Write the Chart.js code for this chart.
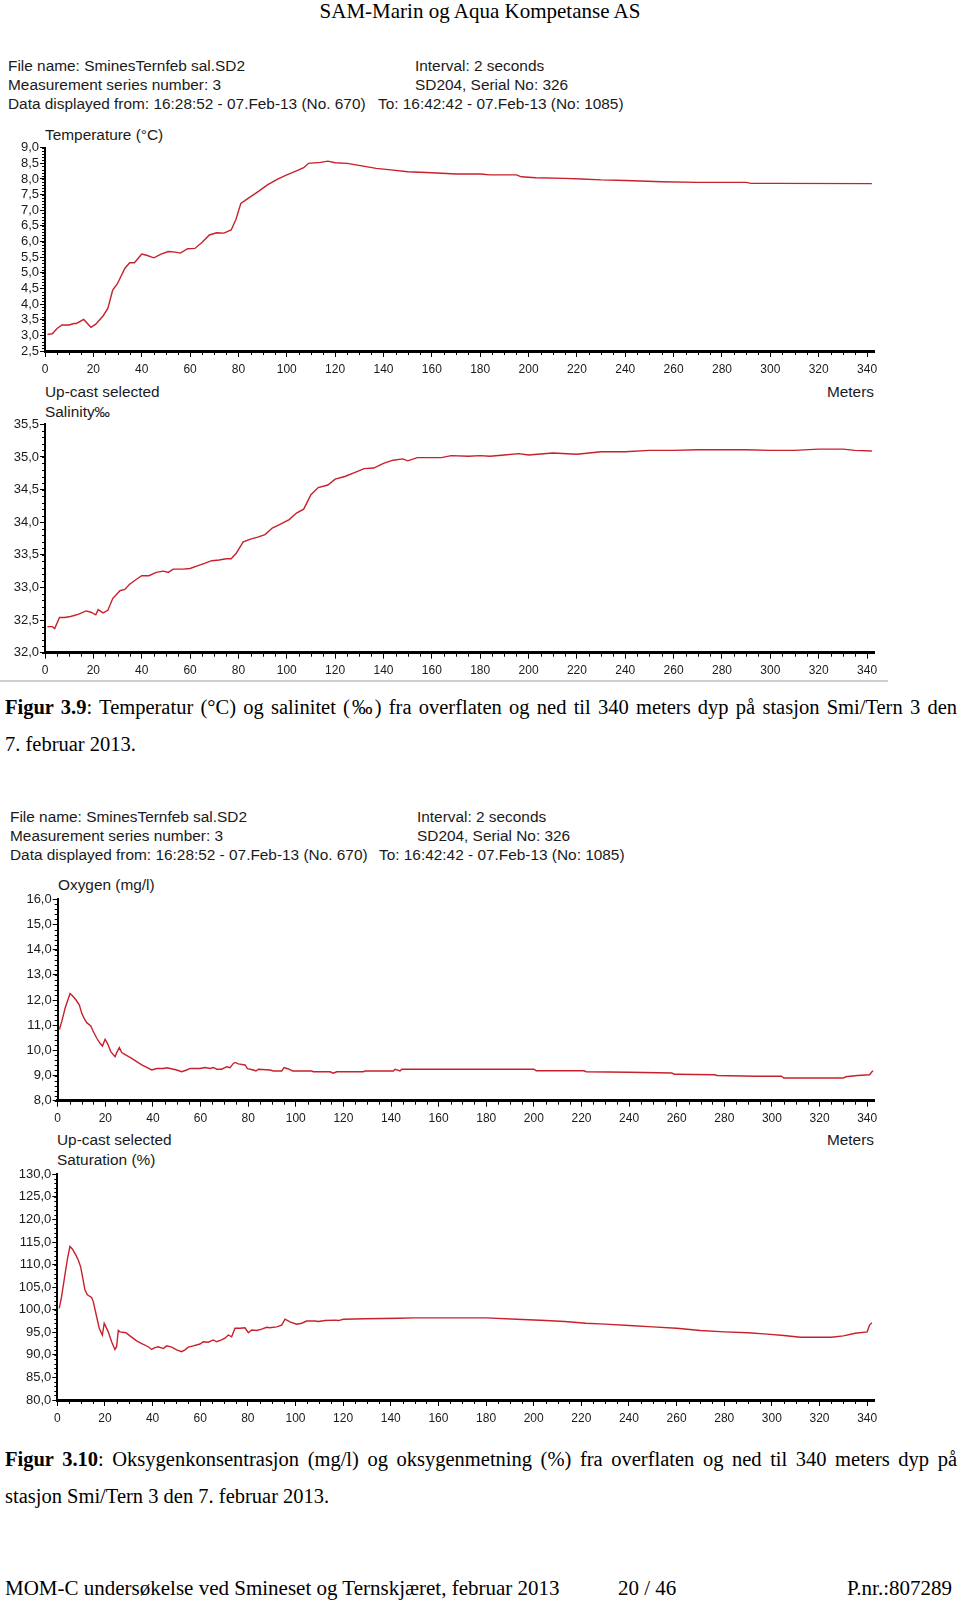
<!DOCTYPE html>
<html><head><meta charset="utf-8">
<script src="https://cdn.jsdelivr.net/npm/chart.js@4/dist/chart.umd.min.js"></script>
<style>
html,body{margin:0;padding:0;background:#fff;}
body{width:960px;height:1601px;position:relative;overflow:hidden;}
.t{position:absolute;font-family:"Liberation Sans",Arial,sans-serif;font-size:15.4px;color:#1a1a1a;white-space:nowrap;line-height:16px;}
.s{position:absolute;font-family:"Liberation Serif","Times New Roman",serif;font-size:20.5px;color:#000;white-space:nowrap;line-height:22px;}
.j{width:952px;text-align:justify;text-align-last:justify;}
canvas{position:absolute;left:0;}
.rule{position:absolute;left:0;top:680px;width:888px;height:2px;background:#cfcfcf;}
</style></head><body>

<div class="s" style="left:0;width:960px;text-align:center;top:0px;font-size:21px;">SAM-Marin og Aqua Kompetanse AS</div>

<div class="t" style="left:8px;top:58px;">File name: SminesTernfeb sal.SD2</div>
<div class="t" style="left:8px;top:77px;">Measurement series number: 3</div>
<div class="t" style="left:8px;top:96px;">Data displayed from: 16:28:52 - 07.Feb-13 (No. 670)</div>
<div class="t" style="left:415px;top:58px;">Interval: 2 seconds</div>
<div class="t" style="left:415px;top:77px;">SD204, Serial No: 326</div>
<div class="t" style="left:378px;top:96px;">To: 16:42:42 - 07.Feb-13 (No: 1085)</div>
<div class="t" style="left:45px;top:127px;">Temperature (°C)</div>
<div class="t" style="left:45px;top:384px;">Up-cast selected</div>
<div class="t" style="right:86px;top:384px;">Meters</div>
<div class="t" style="left:45px;top:404px;">Salinity‰</div>

<div class="rule"></div>
<div class="s j" style="left:5px;top:696px;"><b>Figur 3.9</b>: Temperatur (°C) og salinitet (‰) fra overflaten og ned til 340 meters dyp på stasjon Smi/Tern 3 den</div>
<div class="s" style="left:5px;top:733px;">7. februar 2013.</div>

<div class="t" style="left:10px;top:809px;">File name: SminesTernfeb sal.SD2</div>
<div class="t" style="left:10px;top:828px;">Measurement series number: 3</div>
<div class="t" style="left:10px;top:847px;">Data displayed from: 16:28:52 - 07.Feb-13 (No. 670)</div>
<div class="t" style="left:417px;top:809px;">Interval: 2 seconds</div>
<div class="t" style="left:417px;top:828px;">SD204, Serial No: 326</div>
<div class="t" style="left:379px;top:847px;">To: 16:42:42 - 07.Feb-13 (No: 1085)</div>
<div class="t" style="left:58px;top:877px;">Oxygen (mg/l)</div>
<div class="t" style="left:57px;top:1132px;">Up-cast selected</div>
<div class="t" style="right:86px;top:1132px;">Meters</div>
<div class="t" style="left:57px;top:1152px;">Saturation (%)</div>

<div class="s j" style="left:5px;top:1448px;"><b>Figur 3.10</b>: Oksygenkonsentrasjon (mg/l) og oksygenmetning (%) fra overflaten og ned til 340 meters dyp på</div>
<div class="s" style="left:5px;top:1485px;">stasjon Smi/Tern 3 den 7. februar 2013.</div>

<div class="s" style="left:5px;top:1577px;font-size:21px;">MOM-C undersøkelse ved Smineset og Ternskjæret, februar 2013</div>
<div class="s" style="left:618px;top:1577px;font-size:21px;">20 / 46</div>
<div class="s" style="right:8px;top:1577px;font-size:21px;">P.nr.:807289</div>

<canvas id="c1"></canvas>
<canvas id="c2"></canvas>
<canvas id="c3"></canvas>
<canvas id="c4"></canvas>

<script>
// ---- data ----
const depthTicks = [0,20,40,60,80,100,120,140,160,180,200,220,240,260,280,300,320,340];

const tempDepth = [1,3,5,7,10,12,13,16,19,21,24,26,28,30,33,35,37,40,42,45,48,51,54,56,59,62,65,68,71,74,77,79,81,84,88,92,96,100,104,107,109,114,117,120,125,131,137,143,150,160,170,180,184,195,197,203,215,222,230,240,255,270,290,292,302,342];
const tempVal = [3.03,3.05,3.22,3.33,3.33,3.38,3.38,3.51,3.26,3.36,3.62,3.86,4.45,4.66,5.14,5.32,5.32,5.60,5.56,5.48,5.60,5.68,5.66,5.63,5.77,5.78,5.98,6.21,6.28,6.27,6.37,6.71,7.22,7.38,7.59,7.81,7.99,8.13,8.26,8.36,8.50,8.53,8.57,8.52,8.50,8.42,8.34,8.29,8.23,8.20,8.16,8.16,8.13,8.13,8.07,8.04,8.02,8.00,7.97,7.95,7.91,7.89,7.89,7.86,7.86,7.85];

const salDepth = [1,3,4,6,8,10,12,14,17,19,21,22,24,26,28,31,33,35,38,40,43,46,49,51,53,57,60,63,66,69,72,75,77,79,82,85,88,91,94,98,101,104,107,110,113,117,120,124,128,132,136,140,144,148,150,154,158,164,168,175,180,184,190,196,200,210,220,230,240,250,260,270,280,290,300,310,320,330,335,342];
const salVal = [32.40,32.40,32.37,32.54,32.54,32.55,32.57,32.59,32.64,32.62,32.58,32.66,32.61,32.65,32.83,32.95,32.97,33.05,33.13,33.18,33.18,33.23,33.25,33.23,33.28,33.28,33.29,33.33,33.37,33.41,33.42,33.44,33.44,33.52,33.70,33.74,33.77,33.81,33.91,33.98,34.04,34.14,34.20,34.42,34.53,34.57,34.66,34.70,34.76,34.82,34.83,34.90,34.95,34.97,34.94,34.99,34.99,34.99,35.02,35.01,35.02,35.01,35.03,35.05,35.03,35.06,35.04,35.08,35.08,35.10,35.10,35.11,35.11,35.11,35.10,35.10,35.12,35.12,35.10,35.09];

const oxyDepth = [0.7,1.7,3.1,4.5,5.2,6.3,7.7,9.1,10.1,11.1,12.2,13.9,15.0,16.4,17.8,18.8,19.9,20.9,22.3,24.1,24.8,25.9,26.9,28.7,31.1,33.2,35.3,37.4,39.5,41.6,44.4,45.8,47.2,50,52.1,54.2,55.6,59.8,61.9,64,65.4,66.8,68.9,71,72.4,73.8,74.5,75.9,78.7,79.7,82.2,83.3,84.3,89.2,90.6,94.1,95.1,96.9,98.7,106.7,107.4,114.4,115.8,117.2,128.4,129.1,141,141.7,143.8,144.5,177,200,201,221,222,240,258,259,276,277,293,304,305,330,331,336,341,342,342.5];
const oxyVal = [10.83,11.14,11.67,12.07,12.26,12.16,12.0,11.80,11.47,11.27,11.10,10.97,10.74,10.48,10.28,10.17,10.44,10.28,9.95,9.75,9.91,10.11,9.91,9.81,9.68,9.55,9.42,9.32,9.22,9.28,9.28,9.31,9.28,9.22,9.15,9.22,9.28,9.28,9.32,9.28,9.32,9.25,9.25,9.35,9.31,9.48,9.52,9.46,9.42,9.27,9.22,9.18,9.25,9.22,9.18,9.18,9.32,9.26,9.18,9.18,9.15,9.15,9.09,9.15,9.15,9.18,9.18,9.25,9.18,9.25,9.25,9.25,9.19,9.19,9.15,9.13,9.10,9.05,9.03,9.0,8.97,8.97,8.90,8.90,8.95,9.0,9.03,9.15,9.19];

const satDepth = [0.8,1.8,3.2,4.3,5.3,6.4,7.8,8.8,9.8,10.6,11.6,12.6,14.4,15.1,16.5,17.6,18.9,19.7,20.4,21.4,22.8,24.2,24.9,25.6,26.3,28.8,30.5,33.3,36.1,38.2,39.6,41,42.4,44.5,45.9,48,50.1,52.2,53.6,55,57.1,59.9,61.3,63.4,65.5,66.9,69,70.4,71.8,73.2,74.6,76.7,78.8,80.2,81.6,83.7,85.8,87.9,89.3,92.1,94.2,95.6,97.7,100.5,102.6,104.7,108.2,109.6,112.4,116.6,118,120.1,129.1,143.8,149.4,180,193,205,213,222,230,240,250,260,270,280,290,298,305,312,325,330,335,340,341,342];
const satVal = [100.3,102.9,107.7,111.4,114.0,113.4,112.1,111.0,109.5,107.3,104.4,103.3,102.7,101.8,98.5,95.9,94.4,97.0,96.2,95.1,92.9,91.2,91.8,95.4,95.1,94.9,94.2,93.1,92.3,91.8,91.2,91.6,91.8,91.4,92.0,91.7,91.1,90.7,91.1,91.7,92.0,92.4,92.9,92.8,93.3,92.9,93.3,93.7,94.4,94.0,95.9,95.9,96.0,94.9,95.5,95.4,95.7,96.1,96.0,96.2,96.6,97.9,97.3,96.8,97.0,97.5,97.5,97.4,97.6,97.7,97.6,97.9,98.0,98.1,98.2,98.2,97.9,97.6,97.4,97.0,96.8,96.5,96.2,95.9,95.4,95.1,94.9,94.6,94.3,93.9,93.9,94.2,94.8,95.1,96.6,97.1];

const tempTicks = [2.5,3.0,3.5,4.0,4.5,5.0,5.5,6.0,6.5,7.0,7.5,8.0,8.5,9.0];
const salTicks = [32.0,32.5,33.0,33.5,34.0,34.5,35.0,35.5];
const oxyTicks = [8,9,10,11,12,13,14,15,16];
const satTicks = [80,85,90,95,100,105,110,115,120,125,130];

// ---- layout (pixel geometry of plot areas on page) ----
const geo = {
  c1: {PL:45,   PR:874.3, PT:147.7,  PB:351,    minorY:0.1},
  c2: {PL:45,   PR:874.3, PT:424.3,  PB:652.7,  minorY:0.1},
  c3: {PL:57.7, PR:874.3, PT:899.3,  PB:1100.7, minorY:0.2},
  c4: {PL:57.3, PR:874.3, PT:1174.3, PB:1400,   minorY:1}
};

Chart.defaults.font.family = '"Liberation Sans", Arial, sans-serif';
Chart.defaults.font.size = 12;
Chart.defaults.color = '#1a1a1a';

const minorTicks = {
  id: 'minorTicks',
  afterDraw(chart, args, opts) {
    const ctx = chart.ctx, xs = chart.scales.x, ys = chart.scales.y;
    ctx.save();
    ctx.strokeStyle = '#000';
    ctx.lineWidth = 1;
    ctx.beginPath();
    for (let i = 0; ; i++) {
      const v = xs.min + i * 5;
      if (v > xs.max + 1e-9) break;
      if (i % 4 === 0) continue;
      const px = Math.round(xs.getPixelForValue(v)) + 0.5;
      ctx.moveTo(px, xs.top); ctx.lineTo(px, xs.top + 4);
    }
    for (let i = 0; ; i++) {
      const v = ys.min + i * opts.step;
      if (v > ys.max + 1e-9) break;
      const py = Math.round(ys.getPixelForValue(v)) + 0.5;
      ctx.moveTo(ys.right - 3, py); ctx.lineTo(ys.right, py);
    }
    ctx.stroke();
    ctx.restore();
  }
};

function fmt(v) { return v.toFixed(1).replace('.', ','); }

function makeChart(id, depth, vals, yTicks) {
  const g = geo[id];
  const canvas = document.getElementById(id);
  const top = Math.floor(g.PT) - 10;
  const width = 900;
  const height = Math.ceil(g.PB) + 30 - top;
  const padTop = g.PT - top;
  const padRight = width - g.PR;
  const hx = top + height - g.PB;
  canvas.style.top = top + 'px';
  canvas.width = width; canvas.height = height;
  canvas.style.width = width + 'px'; canvas.style.height = height + 'px';
  const step = yTicks[1] - yTicks[0];
  new Chart(canvas, {
    type: 'line',
    data: {
      datasets: [{
        data: depth.map((d, i) => ({x: d, y: vals[i]})),
        borderColor: '#c8202c',
        borderWidth: 1.4,
        pointRadius: 0,
        tension: 0,
        fill: false
      }]
    },
    options: {
      responsive: false,
      animation: false,
      devicePixelRatio: 1,
      layout: {padding: {top: padTop, right: padRight, left: 0, bottom: 0}},
      plugins: {legend: {display: false}, tooltip: {enabled: false}, minorTicks: {step: g.minorY}},
      scales: {
        x: {
          type: 'linear', min: 0, max: 343,
          afterFit: s => { s.height = hx; },
          border: {display: true, color: '#000', width: 3},
          grid: {drawOnChartArea: false, drawTicks: true, tickLength: 6, tickColor: '#000', tickWidth: 1},
          ticks: {stepSize: 20, includeBounds: false, autoSkip: false, maxRotation: 0, padding: 5,
                  callback: v => depthTicks.includes(v) ? String(v) : ''}
        },
        y: {
          type: 'linear', min: yTicks[0], max: yTicks[yTicks.length - 1],
          afterFit: s => { s.width = g.PL; },
          border: {display: true, color: '#000', width: 2},
          grid: {drawOnChartArea: false, drawTicks: true, tickLength: 5, tickColor: '#000', tickWidth: 1},
          ticks: {stepSize: step, autoSkip: false, padding: 1, font: {size: 13}, callback: v => fmt(v)}
        }
      }
    },
    plugins: [minorTicks]
  });
}

makeChart('c1', tempDepth, tempVal, tempTicks);
makeChart('c2', salDepth, salVal, salTicks);
makeChart('c3', oxyDepth, oxyVal, oxyTicks);
makeChart('c4', satDepth, satVal, satTicks);
</script>
</body></html>
